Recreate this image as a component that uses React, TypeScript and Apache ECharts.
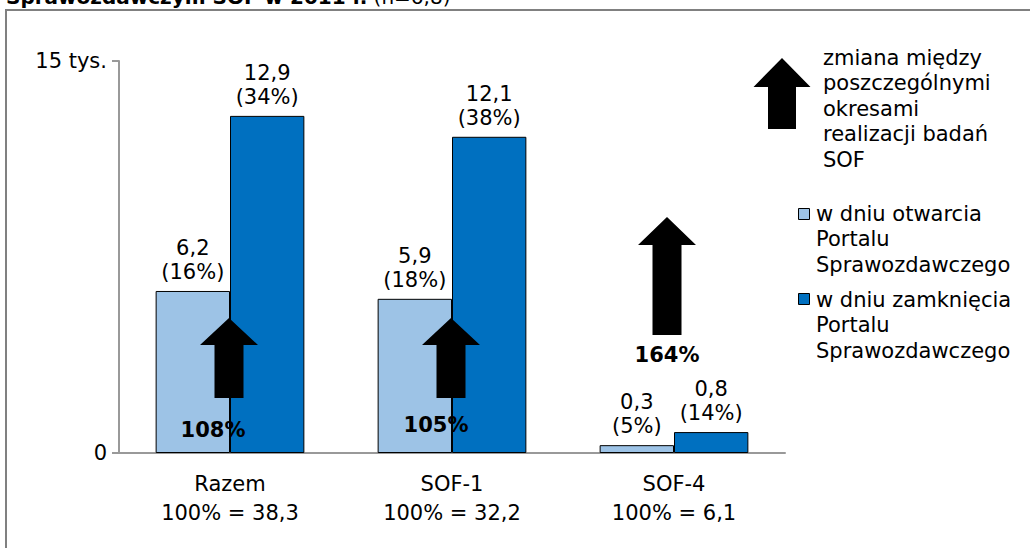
import React, { useEffect, useRef } from "react";
import * as echarts from "echarts";

const categories = ["Razem", "SOF-1", "SOF-4"];
const totals = ["38,3", "32,2", "6,1"];
const openValues = [6.2, 5.9, 0.3];
const openPct = [16, 18, 5];
const closeValues = [12.9, 12.1, 0.8];
const closePct = [34, 38, 14];
const changes = ["108%", "105%", "164%"];
const yTicks = [0, 15];
const seriesNames = [
  "w dniu otwarcia\nPortalu\nSprawozdawczego",
  "w dniu zamknięcia\nPortalu\nSprawozdawczego",
];
const arrowLegendText = "zmiana między\nposzczególnymi\nokresami\nrealizacji badań\nSOF";
const titleBold = "Sprawozdawczym SOF w 2011 r.";
const titleRest = " (n=6,8)";

const FONT = "'DejaVu Sans', Verdana, sans-serif";
const FS = 21;
const LIGHT = "#9DC3E6";
const DARK = "#0070C0";

const fmt = (v: number) => String(v).replace(".", ",");

function arrow(cx: number, tipY: number, baseY: number, bottomY: number, headHalf = 29, shaftHalf = 14.5) {
  return {
    type: "polygon",
    shape: {
      points: [
        [cx, tipY],
        [cx + headHalf, baseY],
        [cx + shaftHalf, baseY],
        [cx + shaftHalf, bottomY],
        [cx - shaftHalf, bottomY],
        [cx - shaftHalf, baseY],
        [cx - headHalf, baseY],
      ],
    },
    style: { fill: "#000" },
    z: 100,
  };
}

export default function App() {
  const ref = useRef<HTMLDivElement>(null);
  useEffect(() => {
    if (!ref.current) return;
    const chart = echarts.init(ref.current, undefined, { renderer: "svg" });
    const labelFor = (pcts: number[]) => ({
      show: true,
      position: "top",
      distance: 7,
      color: "#000",
      fontFamily: FONT,
      fontSize: FS,
      lineHeight: 24,
      formatter: (p: any) => `${fmt(p.value)}\n(${pcts[p.dataIndex]}%)`,
    });
    chart.setOption({
      animation: false,
      backgroundColor: "#fff",
      textStyle: { fontFamily: FONT },
      grid: { left: 119, right: 245, top: 61, bottom: 95, containLabel: false },
      xAxis: {
        type: "category",
        data: categories,
        axisLine: { show: true, lineStyle: { color: "#999", width: 2 } },
        axisTick: { show: false },
        axisLabel: {
          color: "#000",
          fontFamily: FONT,
          fontSize: FS,
          lineHeight: 29,
          margin: 16,
          formatter: (v: string, i: number) => `${v}\n100% = ${totals[i]}`,
        },
      },
      yAxis: {
        type: "value",
        min: 0,
        max: 15,
        interval: 15,
        splitLine: { show: false },
        axisLine: { show: true, lineStyle: { color: "#999", width: 2 } },
        axisTick: { show: true, length: 7, lineStyle: { color: "#999", width: 2 } },
        axisLabel: {
          color: "#000",
          fontFamily: FONT,
          fontSize: FS,
          margin: 12,
          formatter: (v: number) => (v === yTicks[1] ? `${v} tys.` : String(v)),
        },
      },
      series: [
        {
          name: seriesNames[0],
          type: "bar",
          data: openValues,
          barGap: "0%",
          barCategoryGap: "33%",
          itemStyle: { color: LIGHT, borderColor: "#000", borderWidth: 1 },
          label: labelFor(openPct),
          z: 2,
        },
        {
          name: seriesNames[1],
          type: "bar",
          data: closeValues,
          itemStyle: { color: DARK, borderColor: "#000", borderWidth: 1 },
          label: labelFor(closePct),
          z: 2,
        },
      ],
    });

    const cx = categories.map((c) => chart.convertToPixel({ xAxisIndex: 0 }, c) as number);
    const boldText = (x: number, y: number, text: string) => ({
      type: "text",
      x,
      y,
      style: { text, fontFamily: FONT, fontSize: FS, fontWeight: "bold", fill: "#000", align: "center", verticalAlign: "middle" },
      z: 101,
    });

    chart.setOption({
      graphic: [
        {
          type: "rect",
          shape: { x: 6, y: 10, width: 1100, height: 700 },
          style: { fill: "none", stroke: "#808080", lineWidth: 2 },
          z: 0,
        },
        {
          type: "text",
          x: 6,
          y: -3,
          style: {
            text: `{b|${titleBold}}{n|${titleRest}}`,
            verticalAlign: "middle",
            rich: {
              b: { fontFamily: FONT, fontSize: 20, fontWeight: "bold", fill: "#000" },
              n: { fontFamily: FONT, fontSize: 20, fill: "#000" },
            },
          },
        },
        arrow(cx[0] - 1, 318, 345, 398),
        arrow(cx[1] - 1, 318, 345, 398),
        arrow(cx[2] - 7, 217, 245, 335),
        boldText(cx[0] - 17, 430, changes[0]),
        boldText(cx[1] - 16, 425, changes[1]),
        boldText(cx[2] - 7, 355, changes[2]),
        // legend
        arrow(782, 58, 87, 129, 28.5, 14),
        {
          type: "text",
          x: 823,
          y: 45,
          style: { text: arrowLegendText, fontFamily: FONT, fontSize: FS, lineHeight: 25.5, fill: "#000", align: "left", verticalAlign: "top" },
        },
        {
          type: "rect",
          shape: { x: 798.5, y: 208.5, width: 11, height: 11 },
          style: { fill: LIGHT, stroke: "#000", lineWidth: 1 },
        },
        {
          type: "text",
          x: 816,
          y: 201,
          style: { text: seriesNames[0], fontFamily: FONT, fontSize: FS, lineHeight: 25.5, fill: "#000", align: "left", verticalAlign: "top" },
        },
        {
          type: "rect",
          shape: { x: 798.5, y: 293.5, width: 11, height: 11 },
          style: { fill: DARK, stroke: "#000", lineWidth: 1 },
        },
        {
          type: "text",
          x: 816,
          y: 287,
          style: { text: seriesNames[1], fontFamily: FONT, fontSize: FS, lineHeight: 25.5, fill: "#000", align: "left", verticalAlign: "top" },
        },
      ],
    });
    return () => chart.dispose();
  }, []);
  return <div ref={ref} style={{ position: "fixed", left: 0, top: 0, width: 1030, height: 548 }} />;
}
